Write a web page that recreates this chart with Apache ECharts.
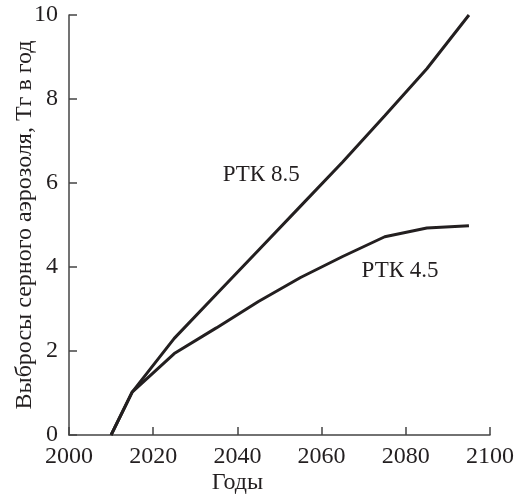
<!DOCTYPE html>
<html>
<head>
<meta charset="utf-8">
<script src="https://cdn.jsdelivr.net/npm/echarts@6/dist/echarts.min.js"></script>
<style>
  html, body { margin: 0; padding: 0; background: #fff; }
  #chart { width: 516px; height: 500px; }
</style>
</head>
<body>
<div id="chart"></div>
<script>
// Годы и выбросы по сценариям
var years = [2010, 2015, 2025, 2035, 2045, 2055, 2065, 2075, 2085, 2095];
var rcp85 = [0, 1.02, 2.3, 3.35, 4.4, 5.45, 6.5, 7.6, 8.72, 10.0];
var rcp45 = [0, 1.02, 1.94, 2.55, 3.18, 3.75, 4.25, 4.72, 4.93, 4.98];
var seriesNames = ['РТК 8.5', 'РТК 4.5'];
// точки подписей (год, значение)
var labelAt = [[2036.5, 6.2], [2069.5, 3.9]];

var font = '"Liberation Serif", "Times New Roman", serif';
var ink = '#231f20';

var pairs = function(xs, ys){
    var out = [];
    for (var i = 0; i < xs.length; i++) {
        out.push([xs[i], ys[i]]);
    }
    return out;
};

var makeSeries = function(name, values, at){
    return {
        name: name,
        type: 'line',
        data: pairs(years, values),
        symbol: 'none',
        lineStyle: { color: ink, width: 3 },
        markPoint: {
            symbol: 'circle',
            symbolSize: 0,
            data: [{ coord: at }],
            label: {
                show: true,
                position: 'right',
                distance: 0,
                formatter: name,
                color: ink,
                fontFamily: font,
                fontSize: 23
            }
        },
        silent: true
    };
};

var chart = echarts.init(document.getElementById('chart'));

chart.setOption({
    animation: false,
    backgroundColor: '#fff',
    grid: { left: 69, right: 26, top: 15, bottom: 65, outerBoundsMode: 'none' },
    xAxis: {
        type: 'value',
        min: 2000,
        max: 2100,
        interval: 20,
        name: 'Годы',
        nameLocation: 'middle',
        nameGap: 36,
        nameMoveOverlap: false,
        // подпись сдвинута влево, под 2040
        nameTextStyle: { color: ink, fontFamily: font, fontSize: 24, padding: [0, 84, 0, 0] },
        axisLine: { lineStyle: { color: '#444', width: 1.5 } },
        axisTick: { inside: true, length: 8, lineStyle: { color: '#444', width: 1.5 } },
        axisLabel: {
            color: ink, fontFamily: font, fontSize: 24, margin: 10,
            formatter: function(v){ return String(v); }
        },
        splitLine: { show: false }
    },
    yAxis: {
        type: 'value',
        min: 0,
        max: 10,
        interval: 2,
        name: 'Выбросы серного аэрозоля, Тг в год',
        nameLocation: 'middle',
        nameGap: 32,
        nameMoveOverlap: false,
        nameTextStyle: { color: ink, fontFamily: font, fontSize: 24 },
        axisLine: { show: true, lineStyle: { color: '#444', width: 1.5 } },
        axisTick: { show: true, inside: true, length: 8, lineStyle: { color: '#444', width: 1.5 } },
        axisLabel: { color: ink, fontFamily: font, fontSize: 24, margin: 11 },
        splitLine: { show: false }
    },
    series: [
        makeSeries(seriesNames[0], rcp85, labelAt[0]),
        makeSeries(seriesNames[1], rcp45, labelAt[1])
    ]
});
</script>
</body>
</html>
